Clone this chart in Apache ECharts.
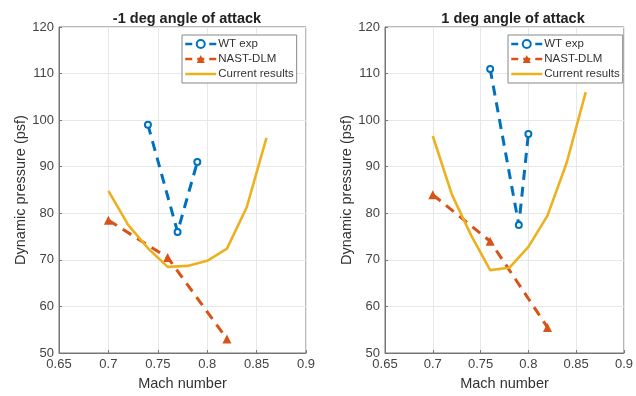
<!DOCTYPE html>
<html><head><meta charset="utf-8">
<script src="https://cdn.jsdelivr.net/npm/echarts@6/dist/echarts.min.js"></script>
<style>html,body{margin:0;padding:0;background:#fff}#c{width:636px;height:396px}</style>
</head><body><div id="c"></div>
<script>
const titles = ['-1 deg angle of attack', '1 deg angle of attack'];
const seriesNames = ['WT exp', 'NAST-DLM', 'Current results'];
const xTicks = [0.65, 0.7, 0.75, 0.8, 0.85, 0.9];
const yTicks = [50, 60, 70, 80, 90, 100, 110, 120];

// Left panel (-1 deg)
const wtMachL = [0.74, 0.77, 0.79];
const wtQL = [99, 76, 91];
const nastMachL = [0.70, 0.76, 0.82];
const nastQL = [78.5, 70.5, 53];
const curMachL = [0.70, 0.72, 0.74, 0.76, 0.78, 0.80, 0.82, 0.84, 0.86];
const curQL = [84.8, 77.5, 72.5, 68.5, 68.7, 69.8, 72.4, 81.3, 96.2];

// Right panel (1 deg)
const wtMachR = [0.76, 0.79, 0.80];
const wtQR = [111, 77.5, 97];
const nastMachR = [0.70, 0.76, 0.82];
const nastQR = [84, 74, 55.5];
const curMachR = [0.70, 0.72, 0.74, 0.76, 0.78, 0.80, 0.82, 0.84, 0.86];
const curQR = [96.6, 84, 75.3, 67.8, 68.3, 72.8, 79.5, 90.8, 106];

const colors = ['#0072BD', '#D95319', '#EDB120'];
const font = 'Liberation Sans, Arial, Helvetica, sans-serif';
const zip = (a, b) => a.map((v, i) => [v, b[i]]);

function xAxis(gi) {
  return {
    gridIndex: gi, type: 'value', min: xTicks[0], max: xTicks[xTicks.length - 1], interval: 0.05,
    name: 'Mach number', nameLocation: 'middle', nameGap: 23,
    nameTextStyle: { color: '#333', fontSize: 14.5, fontFamily: font },
    axisLine: { lineStyle: { color: '#777' } },
    axisTick: { inside: true, length: 3, lineStyle: { color: '#777' } },
    axisLabel: { color: '#444', fontSize: 13, fontFamily: font, margin: 5, formatter: v => String(+v.toFixed(2)) },
    splitLine: { show: true, lineStyle: { color: '#e8e8e8' } }
  };
}
function yAxis(gi) {
  return {
    gridIndex: gi, type: 'value', min: yTicks[0], max: yTicks[yTicks.length - 1], interval: 10,
    name: 'Dynamic pressure (psf)', nameLocation: 'middle', nameGap: 30,
    nameTextStyle: { color: '#333', fontSize: 14.5, fontFamily: font },
    axisLine: { show: true, lineStyle: { color: '#777' } },
    axisTick: { show: true, inside: true, length: 3, lineStyle: { color: '#777' } },
    axisLabel: { color: '#444', fontSize: 13, fontFamily: font, margin: 5 },
    splitLine: { show: true, lineStyle: { color: '#e8e8e8' } }
  };
}
function series(gi, wt, nast, cur) {
  return [
    { name: seriesNames[0], type: 'line', xAxisIndex: gi, yAxisIndex: gi, data: wt,
      symbol: 'emptyCircle', symbolSize: 6, color: colors[0], z: 3,
      lineStyle: { width: 3, type: [10, 7], color: colors[0] },
      itemStyle: { color: colors[0], borderWidth: 2.2 } },
    { name: seriesNames[1], type: 'line', xAxisIndex: gi, yAxisIndex: gi, data: nast,
      symbol: 'triangle', symbolSize: 9, color: colors[1], z: 2,
      lineStyle: { width: 3, type: [10, 7], color: colors[1] },
      itemStyle: { color: colors[1] } },
    { name: seriesNames[2], type: 'line', xAxisIndex: gi, yAxisIndex: gi, data: cur,
      symbol: 'none', color: colors[2], z: 4,
      lineStyle: { width: 2.6, color: colors[2] } }
  ];
}
function legend(left) {
  return {
    data: [
      { name: seriesNames[0], lineStyle: { type: [7, 5], width: 2.5 } },
      { name: seriesNames[1], lineStyle: { type: [7, 5], width: 2.5 } },
      { name: seriesNames[2], itemStyle: { opacity: 0 }, lineStyle: { width: 2.5 } }
    ],
    orient: 'vertical', left: left, top: 35,
    backgroundColor: '#fff', borderColor: '#888', borderWidth: 1,
    padding: [3, 3, 3, 2], itemGap: 3, itemWidth: 31, itemHeight: 10,
    textStyle: { color: '#333', fontSize: 11.5, fontFamily: font, padding: [0, 0, 0, -3] }
  };
}

const chart = echarts.init(document.getElementById('c'), null, { renderer: 'canvas' });
chart.setOption({
  animation: false,
  backgroundColor: '#fff',
  title: [
    { text: titles[0], left: 182, top: 6, textAlign: 'center',
      textStyle: { fontSize: 14.5, fontWeight: 'bold', color: '#222', fontFamily: font } },
    { text: titles[1], left: 508, top: 6, textAlign: 'center',
      textStyle: { fontSize: 14.5, fontWeight: 'bold', color: '#222', fontFamily: font } }
  ],
  grid: [
    { left: 59, right: 330, top: 27, bottom: 41, show: true, borderColor: '#777', borderWidth: 1 },
    { left: 385, right: 4, top: 27, bottom: 41, show: true, borderColor: '#777', borderWidth: 1 }
  ],
  xAxis: [xAxis(0), xAxis(1)],
  yAxis: [yAxis(0), yAxis(1)],
  legend: [legend(182), legend(508)],
  series: [
    ...series(0, zip(wtMachL, wtQL), zip(nastMachL, nastQL), zip(curMachL, curQL)),
    ...series(1, zip(wtMachR, wtQR), zip(nastMachR, nastQR), zip(curMachR, curQR))
  ]
});
</script>
</body></html>
